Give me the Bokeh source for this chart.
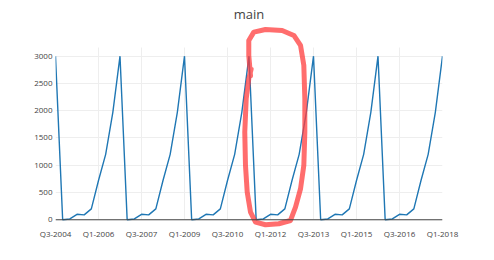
from bokeh.plotting import figure
from bokeh.models import FixedTicker, Span, Grid
from bokeh.embed import file_html
from bokeh.resources import INLINE

# ---- data ----
quarters = [
    "Q3-2004", "Q4-2004",
    "Q1-2005", "Q2-2005", "Q3-2005", "Q4-2005",
    "Q1-2006", "Q2-2006", "Q3-2006", "Q4-2006",
    "Q1-2007", "Q2-2007", "Q3-2007", "Q4-2007",
    "Q1-2008", "Q2-2008", "Q3-2008", "Q4-2008",
    "Q1-2009", "Q2-2009", "Q3-2009", "Q4-2009",
    "Q1-2010", "Q2-2010", "Q3-2010", "Q4-2010",
    "Q1-2011", "Q2-2011", "Q3-2011", "Q4-2011",
    "Q1-2012", "Q2-2012", "Q3-2012", "Q4-2012",
    "Q1-2013", "Q2-2013", "Q3-2013", "Q4-2013",
    "Q1-2014", "Q2-2014", "Q3-2014", "Q4-2014",
    "Q1-2015", "Q2-2015", "Q3-2015", "Q4-2015",
    "Q1-2016", "Q2-2016", "Q3-2016", "Q4-2016",
    "Q1-2017", "Q2-2017", "Q3-2017", "Q4-2017",
    "Q1-2018",
]
values = [
    3000, 0, 15, 100, 90, 200, 720, 1200, 1970,
    3000, 0, 15, 100, 90, 200, 720, 1200, 1970,
    3000, 0, 15, 100, 90, 200, 720, 1200, 1970,
    3000, 0, 15, 100, 90, 200, 720, 1200, 1970,
    3000, 0, 15, 100, 90, 200, 720, 1200, 1970,
    3000, 0, 15, 100, 90, 200, 720, 1200, 1970,
    3000,
]
x_tick_labels = ["Q3-2004", "Q1-2006", "Q3-2007", "Q1-2009", "Q3-2010",
                 "Q1-2012", "Q3-2013", "Q1-2015", "Q3-2016", "Q1-2018"]
y_ticks = [0, 500, 1000, 1500, 2000, 2500, 3000]

# hand-drawn highlight loop (quarter index, value)
loop_x = [27.21, 26.97, 26.97, 27.67, 29.30, 31.63, 33.26, 34.19, 34.65, 34.79,
          34.79, 34.65, 34.19, 33.49, 32.79, 31.16, 29.30, 27.91, 27.21, 26.75,
          26.51, 26.41, 26.61, 26.97, 27.30]
loop_y = [2642, 3013, 3289, 3441, 3490, 3472, 3380, 3197, 2830, 2219,
          1607, 996, 569, 231, -13, -73, -92, -44, 139, 506,
          996, 1607, 2219, 2586, 2760]

xs = list(range(len(quarters)))
tick_idx = [quarters.index(t) for t in x_tick_labels]

FONT = "Open Sans"
TXT = "#444444"

p = figure(width=494, height=260, output_backend="svg", toolbar_location=None,
           x_range=(0, len(quarters) - 1), y_range=(-160, 3581),
           title="main",
           min_border_left=55, min_border_right=52,
           min_border_top=24, min_border_bottom=32)
p.outline_line_color = None
p.background_fill_color = "white"
p.border_fill_color = "white"

p.title.align = "center"
p.title.text_font = FONT
p.title.text_font_size = "13px"
p.title.text_font_style = "normal"
p.title.text_color = TXT
p.title.standoff = 4

# axes
p.xaxis.ticker = FixedTicker(ticks=tick_idx)
p.xaxis.major_label_overrides = {i: quarters[i] for i in tick_idx}
p.yaxis.ticker = FixedTicker(ticks=y_ticks)
for ax in (p.xaxis[0], p.yaxis[0]):
    ax.axis_line_color = None
    ax.major_tick_line_color = None
    ax.minor_tick_line_color = None
    ax.major_tick_out = 0
    ax.major_tick_in = 0
    ax.major_label_text_font = FONT
    ax.major_label_text_color = TXT
    ax.major_label_text_font_size = "8px"
p.xaxis.major_label_standoff = -1
p.yaxis.major_label_standoff = 3

# grids
p.xgrid.grid_line_color = "#eeeeee"
p.ygrid.grid_line_color = "#eeeeee"
if "cross_bounds" in Grid.properties():
    p.xgrid.cross_bounds = (0, 3166)

# zero line
p.add_layout(Span(location=0, dimension="width", line_color="#444444", line_width=1))

# series
p.line(xs, values, line_color="#1f77b4", line_width=1.4)

# highlight annotation
p.line(loop_x, loop_y, line_color="#ff3c3c", line_alpha=0.75, line_width=5,
       line_join="round", line_cap="round")

open("out.html", "w").write(file_html(p, INLINE))
